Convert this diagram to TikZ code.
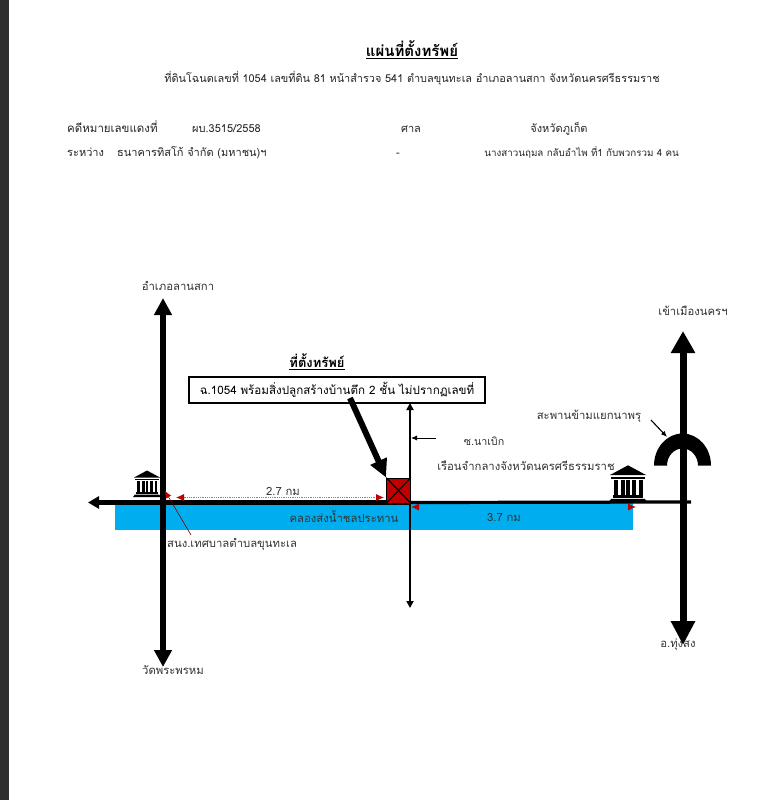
\documentclass[tikz,border=0pt]{standalone}
\usepackage{fontspec}
\setmainfont[Script=Thai]{Loma}
\usetikzlibrary{arrows.meta}
\definecolor{canal}{HTML}{00AEEF}
\definecolor{boxred}{HTML}{C00000}
\definecolor{labelgrey}{HTML}{333333}
\tikzset{
  lbl/.style={inner sep=0pt,text=labelgrey,font=\fontsize{11.3}{13}\selectfont},
  headtxt/.style={inner sep=0pt,text=black!85,font=\fontsize{11}{13}\selectfont},
  bigroad/.style={line width=5.5pt,-{Triangle[length=17pt,width=17pt]}},
  hugeroad/.style={line width=7pt,{Triangle[length=22pt,width=23pt]}-{Triangle[length=24pt,width=23pt]}},
  dimline/.style={draw=red!70!white,densely dotted,line width=.8pt,{Latex[length=8pt,width=7pt,color=red!75!black]}-{Latex[length=8pt,width=7pt,color=red!75!black]}},
  bankicon/.pic={
    \fill (-12,-1.5) -- (12,-1.5) -- (14,1) -- (-14,1) -- cycle;
    \fill (-11,-4) rectangle (11,-2);
    \foreach \i in {-10,-5.2,-1.4,3,7.6}{\fill (\i,-15) rectangle ++(2.8,11);}
    \fill (-12,-16) rectangle (12,-17.5);
    \fill (-13,-18.5) -- (0,-25.5) -- (13,-18.5) -- cycle;
  },
}
\begin{document}
\begin{tikzpicture}[x=1pt,y=-1pt]
\useasboundingbox (0,0) rectangle (779,800);
\fill[white] (0,0) rectangle (779,800);
\fill[black!82] (0,0) rectangle (9,800);

% header
\node[inner sep=0pt,font=\fontsize{15}{17}\selectfont\bfseries] (title) at (412,50) {\underline{แผ่นที่ตั้งทรัพย์}};
\node[headtxt,font=\fontsize{10.9}{13}\selectfont] (sub) at (412,78) {ที่ดินโฉนดเลขที่ 1054 เลขที่ดิน 81 หน้าสำรวจ 541 ตำบลขุนทะเล อำเภอลานสกา จังหวัดนครศรีธรรมราช};
\node[headtxt,anchor=base west,font=\fontsize{11.5}{13}\selectfont] (h1) at (67,132) {คดีหมายเลขแดงที่};
\node[headtxt,anchor=base west] (h2) at (192,132) {ผบ.3515/2558};
\node[headtxt,anchor=base] (h3) at (411,132) {ศาล};
\node[headtxt,anchor=base] (h4) at (559,132) {จังหวัดภูเก็ต};
\node[headtxt,anchor=base west] (h5) at (67,156) {ระหว่าง};
\node[headtxt,anchor=base west] (h6) at (117,156) {ธนาคารทิสโก้ จำกัด (มหาชน)ฯ};
\node[headtxt,anchor=base] (h7) at (398,156) {-};
\node[headtxt,anchor=base east,font=\fontsize{9.8}{12}\selectfont] (h8) at (679,156) {นางสาวนฤมล กลับอำไพ ที่1 กับพวกรวม 4 คน};

% canal
\node[fill=canal,minimum width=518pt,minimum height=27pt,inner sep=0pt,anchor=north west] (canalbox) at (115,503) {};

% named ends
\coordinate (hw) at (88,502.5);
\coordinate (hm) at (410,502.5);
\coordinate (he) at (691,502);
\coordinate (ln) at (163,298);
\coordinate (ls) at (163,667);
\coordinate (rn) at (683,331);
\coordinate (rs) at (683,645);
\coordinate (tn) at (410,403);
\coordinate (ts) at (410,608);

% roads
\draw[line width=3.2pt,-] (hm) -- (he);
\draw[line width=4.2pt,{Triangle[length=11pt,width=12pt]}-] (hw) -- (hm);
\draw[bigroad] (163,400) -- (ln);
\draw[bigroad] (163,400) -- (ls);
\draw[line width=2pt,{Triangle[length=7pt,width=7pt]}-{Triangle[length=7pt,width=7pt]}] (tn) -- (ts);
\draw[hugeroad] (rn) -- (rs);

% bridge
\fill (654,465.5) arc[start angle=180,end angle=360,x radius=28.5,y radius=32] -- (698,465.5)
  arc[start angle=360,end angle=180,x radius=15.5,y radius=17] -- cycle;
\draw[line width=1.1pt,-{Latex[length=6pt,width=5pt]}] (651,420) -- (667,437);

% property
\node[draw,line width=1pt,fill=boxred,minimum width=24pt,minimum height=25pt,inner sep=0pt,anchor=north west] (plot) at (386,477.5) {};
\draw[line width=1pt] (plot.north west) -- (plot.south east) (plot.north east) -- (plot.south west);
\node[draw,line width=2pt,fill=white,minimum width=296pt,minimum height=26pt,inner sep=0pt,font=\fontsize{11.6}{13}\selectfont] (desc) at (337,389.5) {ฉ.1054 พร้อมสิ่งปลูกสร้างบ้านตึก 2 ชั้น ไม่ปรากฏเลขที่};
\node[inner sep=0pt,font=\fontsize{13}{15}\selectfont\bfseries] (ptitle) at (317,362) {\underline{ที่ตั้งทรัพย์}};
\draw[line width=6pt,-{Triangle[length=18pt,width=17pt]}] (350,398) -- (plot.north west);

% icons
\pic at (147,496) {bankicon};
\pic[scale=1.4] at (628,501) {bankicon};

% dimensions
\coordinate (d1a) at (176,497.5);
\coordinate (d1b) at (384,497.5);
\coordinate (d2a) at (411,507);
\coordinate (d2b) at (636,507);
\draw[dimline] (d1a) -- (d1b);
\draw[dimline] (d2a) -- (d2b);
\node[lbl] (d1) at (283,491) {2.7 กม};
\node[lbl] (d2) at (504,517.5) {3.7 กม};

% labels
\node[lbl] (lnt) at (178,286) {อำเภอลานสกา};
\node[lbl] (lst) at (173,670) {วัดพระพรหม};
\node[lbl] (rnt) at (693,311) {เข้าเมืองนครฯ};
\node[lbl] (rst) at (678,645) {อ.ทุ่งสง};
\node[lbl] (canaltxt) at (344,517) {คลองส่งน้ำชลประทาน};
\node[lbl,anchor=west] (tess) at (167,544) {สนง.เทศบาลตำบลขุนทะเล};
\node[lbl,font=\fontsize{10.7}{13}\selectfont] (soi) at (484,441) {ซ.นาเบิก};
\node[lbl] (pris) at (526,466) {เรือนจำกลางจังหวัดนครศรีธรรมราช};
\node[lbl] (brg) at (589,416) {สะพานข้ามแยกนาพรุ};

% pointers
\coordinate (p1) at (191,535);
\coordinate (p2) at (165,491);
\draw[red!45!black,line width=.6pt,-{Latex[length=7pt,width=6pt,color=red!75!black]}] (p1) -- (p2);
\coordinate (p3) at (436,438);
\coordinate (p4) at (411,438);
\draw[line width=.8pt,-{Latex[length=6pt,width=5pt]}] (p3) -- (p4);
\end{tikzpicture}
\end{document}
